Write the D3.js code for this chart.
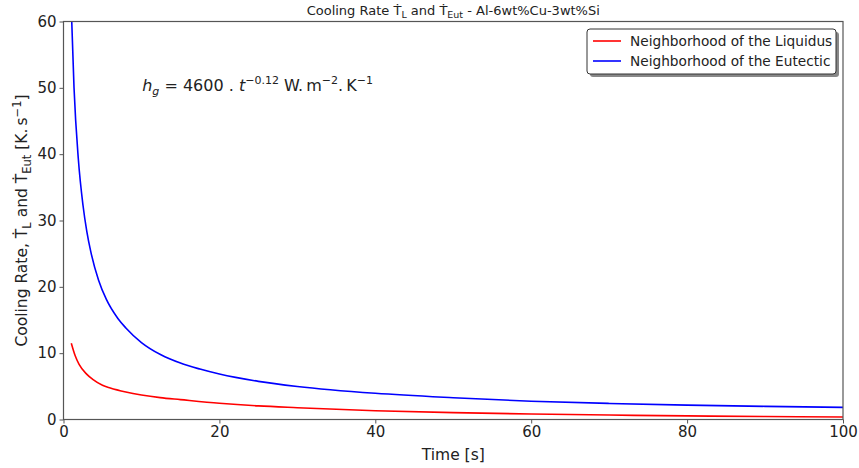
<!DOCTYPE html>
<html>
<head>
<script src="https://d3js.org/d3.v7.min.js"></script>
<style>
  body { margin: 0; background: #fff; }
  text { font-family: "DejaVu Sans", sans-serif; fill: #222; }
</style>
</head>
<body>
<div id="chart"></div>
<script>
const w = 859, h = 468
const margin = {left: 63.5, right: 16, top: 21.5, bottom: 48.5}

// values
const timeLiquidus = [1, 1.5, 2, 3, 3.8, 5, 6, 8, 10, 12.4, 15, 20, 25, 30, 40, 50, 60, 70, 80, 90, 100]
const rateLiquidus = [11.5, 9.6, 8.3, 6.8, 6.0, 5.15, 4.75, 4.15, 3.7, 3.3, 3.0, 2.45, 2.05, 1.78, 1.32, 1.04, 0.83, 0.67, 0.54, 0.45, 0.38]
const timeEutectic = [1, 1.35, 1.9, 2.5, 3, 3.5, 4.5, 5.5, 7, 8, 10, 12.5, 15, 17.5, 20, 25, 30, 40, 50, 60, 70, 80, 90, 100]
const rateEutectic = [62, 50, 39.3, 32.3, 28.3, 25.3, 21.0, 18.1, 15.2, 13.8, 11.6, 9.75, 8.5, 7.6, 6.85, 5.75, 4.98, 3.95, 3.28, 2.75, 2.42, 2.17, 1.98, 1.83]
const seriesNames = ['Neighborhood of the Liquidus', 'Neighborhood of the Eutectic']
const seriesColors = ['#ff0000', '#0000ff']
const xTicks = [0, 20, 40, 60, 80, 100]
const yTicks = [0, 10, 20, 30, 40, 50, 60]

const svg = d3.select('#chart').append('svg')
    .attr('width', w).attr('height', h)

const x = d3.scaleLinear().domain([0, 100]).range([margin.left, w - margin.right])
const y = d3.scaleLinear().domain([0, 60]).range([h - margin.bottom, margin.top])

svg.append('clipPath').attr('id', 'clip')
    .append('rect')
    .attr('x', x(0)).attr('y', y(60))
    .attr('width', x(100) - x(0)).attr('height', y(0) - y(60))

const line = d3.line().x(d => x(d[0])).y(d => y(d[1])).curve(d3.curveMonotoneX)

const series = [
    d3.zip(timeLiquidus, rateLiquidus),
    d3.zip(timeEutectic, rateEutectic)
]

svg.append('g').attr('clip-path', 'url(#clip)')
    .selectAll('path')
    .data(series)
    .enter()
    .append('path')
    .attr('d', line)
    .attr('fill', 'none')
    .attr('stroke', (d, i) => seriesColors[i])
    .attr('stroke-width', 1.6)

// axes
const xAxis = svg.append('g')
    .attr('transform', 'translate(0,' + y(0) + ')')
    .call(d3.axisBottom(x).tickValues(xTicks).tickSize(4).tickPadding(3))
const yAxis = svg.append('g')
    .attr('transform', 'translate(' + x(0) + ',0)')
    .call(d3.axisLeft(y).tickValues(yTicks).tickSize(4).tickPadding(3))

;[xAxis, yAxis].forEach(a => {
    a.select('.domain').remove()
    a.selectAll('line').attr('stroke', '#555')
    a.selectAll('text').style('font-size', '15px').style('font-family', '"DejaVu Sans", sans-serif').attr('fill', '#222')
})

svg.append('rect')
    .attr('x', x(0)).attr('y', y(60))
    .attr('width', x(100) - x(0)).attr('height', y(0) - y(60))
    .attr('fill', 'none').attr('stroke', '#555').attr('stroke-width', 1.2)

// title
const title = svg.append('text')
    .attr('x', (x(0) + x(100)) / 2).attr('y', 15)
    .attr('text-anchor', 'middle')
    .style('font-size', '13px')
title.append('tspan').text('Cooling Rate \u1E6A')
title.append('tspan').attr('font-size', '9.5px').attr('dy', 3).text('L')
title.append('tspan').attr('dy', -3).text(' and \u1E6A')
title.append('tspan').attr('font-size', '9.5px').attr('dy', 3).text('Eut')
title.append('tspan').attr('dy', -3).text(' - Al-6wt%Cu-3wt%Si')

// x label
svg.append('text')
    .attr('x', (x(0) + x(100)) / 2).attr('y', 460)
    .attr('text-anchor', 'middle')
    .style('font-size', '15.5px')
    .text('Time [s]')

// y label
const ylab = svg.append('text')
    .attr('transform', 'translate(27,' + ((y(0) + y(60)) / 2) + ') rotate(-90)')
    .attr('text-anchor', 'middle')
    .style('font-size', '15.5px')
ylab.append('tspan').text('Cooling Rate, \u1E6A')
ylab.append('tspan').attr('font-size', '11.5px').attr('dy', 4).text('L')
ylab.append('tspan').attr('dy', -4).text(' and \u1E6A')
ylab.append('tspan').attr('font-size', '11.5px').attr('dy', 4).text('Eut')
ylab.append('tspan').attr('dy', -4).text(' [K.\u2009s')
ylab.append('tspan').attr('font-size', '11.5px').attr('dy', -6).text('\u22121')
ylab.append('tspan').attr('dy', 6).text(']')

// annotation
const ann = svg.append('text')
    .attr('x', x(10.1)).attr('y', 91)
    .style('font-size', '16px')
ann.append('tspan').attr('font-style', 'italic').text('h')
ann.append('tspan').attr('font-style', 'italic').attr('font-size', '11px').attr('dy', 4).text('g')
ann.append('tspan').attr('dy', -4).text(' = 4600 . ')
ann.append('tspan').attr('font-style', 'italic').text('t')
ann.append('tspan').attr('font-size', '11px').attr('dy', -7).text('\u22120.12')
ann.append('tspan').attr('dy', 7).text(' W.\u2009m')
ann.append('tspan').attr('font-size', '11px').attr('dy', -7).text('\u22122')
ann.append('tspan').attr('dy', 7).text('.\u2009K')
ann.append('tspan').attr('font-size', '11px').attr('dy', -7).text('\u22121')

// legend
const lg = svg.append('g').attr('transform', 'translate(587,29)')
lg.append('rect')
    .attr('x', 3).attr('y', 3).attr('width', 249).attr('height', 45).attr('rx', 3)
    .attr('fill', '#888')
lg.append('rect')
    .attr('width', 249).attr('height', 45).attr('rx', 3)
    .attr('fill', '#fff').attr('stroke', '#333').attr('stroke-width', 1)
const item = lg.selectAll('.item')
    .data(seriesNames)
    .enter()
    .append('g')
    .attr('transform', (d, i) => 'translate(0,' + (12 + i * 20) + ')')
item.append('line')
    .attr('x1', 6).attr('x2', 34)
    .attr('stroke', (d, i) => seriesColors[i]).attr('stroke-width', 1.6)
item.append('text')
    .attr('x', 43).attr('y', 4.5)
    .style('font-size', '13.7px')
    .text(d => d)
</script>
</body>
</html>
